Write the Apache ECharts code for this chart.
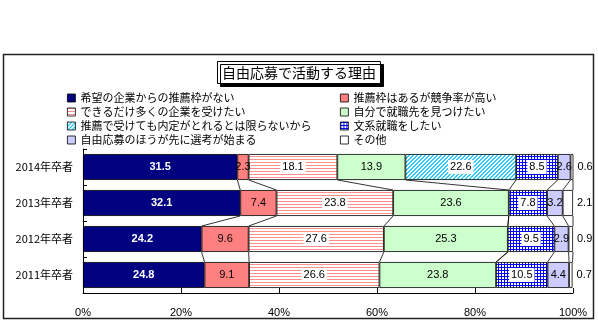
<!DOCTYPE html>
<html><head><meta charset="utf-8">
<script src="https://cdn.jsdelivr.net/npm/echarts@6/dist/echarts.min.js"></script>
<style>html,body{margin:0;padding:0;background:#fff}#c{width:598px;height:325px}</style>
</head><body><div id="c"></div>
<script>
const years = ['2014年卒者','2013年卒者','2012年卒者','2011年卒者'];
const seriesNames = ['希望の企業からの推薦枠がない','推薦枠はあるが競争率が高い','できるだけ多くの企業を受けたい','自分で就職先を見つけたい','推薦で受けても内定がとれるとは限らないから','文系就職をしたい','自由応募のほうが先に選考が始まる','その他'];
const noRecommendSlot = [31.5, 32.1, 24.2, 24.8];
const highCompetition = [2.3, 7.4, 9.6, 9.1];
const manyCompanies = [18.1, 23.8, 27.6, 26.6];
const findOwn = [13.9, 23.6, 25.3, 23.8];
const notGuaranteed = [22.6, null, null, null];
const humanities = [8.5, 7.8, 9.5, 10.5];
const earlierSelection = [2.6, 3.2, 2.9, 4.4];
const other = [0.6, 2.1, 0.9, 0.7];
const xTicks = [0, 20, 40, 60, 80, 100];

const values = [noRecommendSlot, highCompetition, manyCompanies, findOwn, notGuaranteed, humanities, earlierSelection, other];

function pattern(w, h, draw) {
  const c = document.createElement('canvas');
  c.width = w; c.height = h;
  const g = c.getContext('2d');
  g.fillStyle = '#fff'; g.fillRect(0, 0, w, h);
  draw(g);
  return { image: c, repeat: 'repeat' };
}
const pinkStripe = pattern(4, 3, g => { g.fillStyle = '#ff9090'; g.fillRect(0, 0, 4, 1); });
const cyanDiag = pattern(4, 4, g => {
  g.fillStyle = '#33ccff';
  for (let x = 0; x < 4; x++) for (let y = 0; y < 4; y++) {
    const s = (x + y) % 4;
    if (s === 3 || s === 0) g.fillRect(x, y, 1, 1);
  }
});
const blueGrid = pattern(3, 3, g => { g.fillStyle = '#0000ff'; g.fillRect(0, 0, 3, 1); g.fillRect(0, 0, 1, 3); });

const fills = ['#000080', '#ff8080', pinkStripe, '#ccffcc', cyanDiag, blueGrid, '#ccccff', '#ffffff'];
const labelBg = [null, null, '#fff', null, '#fff', '#fff', null, null];
const FONT = "'Liberation Sans', 'Noto Sans CJK JP', sans-serif";
const BAR_RATIO = 0.72;

const barSeries = seriesNames.map((name, i) => ({
  name, type: 'bar', stack: 'total', barWidth: (BAR_RATIO * 100) + '%',
  data: values[i].map(v => v == null ? '-' : v),
  itemStyle: { color: fills[i], borderColor: '#000', borderWidth: 0.8 },
  label: {
    show: true,
    position: i === 7 ? 'right' : 'inside',
    distance: 4,
    fontFamily: FONT, fontSize: 11,
    color: i === 0 ? '#fff' : '#000',
    fontWeight: i === 0 ? 'bold' : 'normal',
    backgroundColor: labelBg[i] || 'transparent',
    padding: labelBg[i] ? [2, 2, 1, 2] : 0
  },
  emphasis: { disabled: true }
}));

// series lines connecting cumulative boundaries between adjacent bars
const connectors = [];
for (let c = 0; c < years.length - 1; c++) {
  let a = 0, b = 0;
  for (let s = 0; s < values.length; s++) {
    a += values[s][c] || 0;
    b += values[s][c + 1] || 0;
    connectors.push([c, Math.min(a, 100), Math.min(b, 100)]);
  }
}

const legendCommon = {
  orient: 'vertical', top: 92, padding: 0, itemGap: 2,
  itemWidth: 8, itemHeight: 8, icon: 'rect', selectedMode: false,
  itemStyle: { borderColor: '#000', borderWidth: 0.8 },
  textStyle: { fontFamily: "'Noto Sans CJK JP', sans-serif", fontSize: 11, color: '#000', lineHeight: 12 }
};

const chart = echarts.init(document.getElementById('c'), null, { renderer: 'canvas' });
chart.setOption({
  animation: false,
  backgroundColor: '#fff',
  graphic: [{
    type: 'rect', shape: { x: 3.5, y: 54.5, width: 590, height: 264 },
    style: { fill: 'none', stroke: '#222', lineWidth: 1.5 }, z: -10
  }],
  title: {
    text: '自由応募で活動する理由', left: 'center', top: 61,
    padding: [3, 5, 3, 5],
    backgroundColor: '#fff', borderColor: '#000', borderWidth: 1,
    shadowColor: '#000', shadowOffsetX: 3, shadowOffsetY: 3, shadowBlur: 0,
    textStyle: { fontFamily: "'Noto Sans CJK JP', sans-serif", fontSize: 14, fontWeight: 'normal', color: '#000', lineHeight: 17 }
  },
  legend: [
    Object.assign({ data: [seriesNames[0], seriesNames[2], seriesNames[4], seriesNames[6]], left: 67 }, legendCommon),
    Object.assign({ data: [seriesNames[1], seriesNames[3], seriesNames[5], seriesNames[7]], left: 340 }, legendCommon)
  ],
  grid: { left: 83, right: 25, top: 149, bottom: 32, containLabel: false },
  xAxis: {
    type: 'value', min: xTicks[0], max: xTicks[xTicks.length - 1], interval: 20,
    axisLine: { show: true, lineStyle: { color: '#000', width: 1 } },
    axisTick: { show: true, inside: true, length: 5, lineStyle: { color: '#000' } },
    splitLine: { show: false },
    axisLabel: { formatter: '{value}%', margin: 14, fontFamily: FONT, fontSize: 11, color: '#000' }
  },
  yAxis: {
    type: 'category', data: years, inverse: true,
    axisLine: { show: true, lineStyle: { color: '#000', width: 1 } },
    axisTick: { show: true, inside: true, length: 4, lineStyle: { color: '#000' } },
    axisLabel: { margin: 10, fontFamily: "'Noto Sans CJK JP', sans-serif", fontSize: 11, color: '#000' }
  },
  series: barSeries.concat([{
    type: 'custom', name: 'connectors', silent: true, z: 1,
    encode: { x: [1, 2], y: 0 },
    data: connectors,
    renderItem: function (params, api) {
      const cat = api.value(0);
      const p1 = api.coord([api.value(1), cat]);
      const p2 = api.coord([api.value(2), cat + 1]);
      const half = api.size([0, 1])[1] * BAR_RATIO / 2;
      return {
        type: 'line',
        shape: { x1: p1[0], y1: p1[1] + half, x2: p2[0], y2: p2[1] - half },
        style: { stroke: '#000', lineWidth: 0.8 }
      };
    }
  }])
});
</script></body></html>
